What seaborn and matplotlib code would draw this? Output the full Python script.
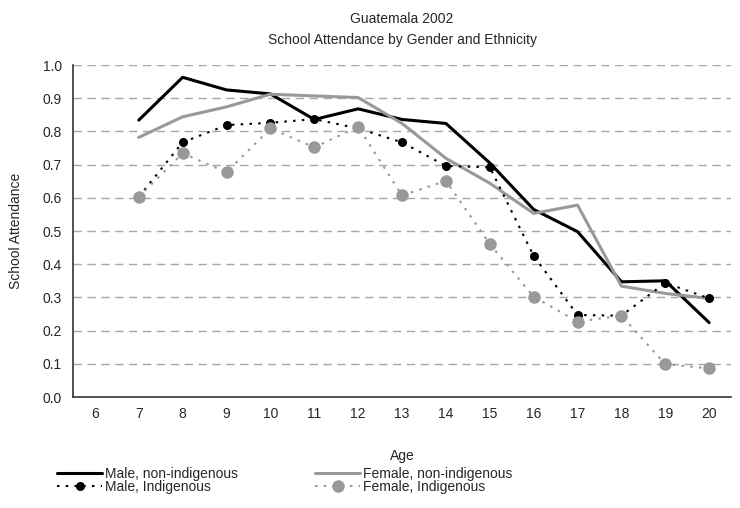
import pandas as pd
import matplotlib.pyplot as plt
import seaborn as sns
import numpy as np

# Data
ages = [7, 8, 9, 10, 11, 12, 13, 14, 15, 16, 17, 18, 19, 20]
male_non_indigenous = [0.834, 0.963, 0.925, 0.913, 0.836, 0.868, 0.836, 0.824,
                       0.705, 0.565, 0.498, 0.347, 0.350, 0.224]
female_non_indigenous = [0.782, 0.844, 0.874, 0.912, 0.907, 0.902, 0.824, 0.719,
                         0.644, 0.553, 0.578, 0.334, 0.312, 0.297]
male_indigenous = [0.603, 0.767, 0.819, 0.826, 0.837, 0.809, 0.767, 0.696,
                   0.692, 0.425, 0.247, 0.245, 0.344, 0.297]
female_indigenous = [0.603, 0.734, 0.677, 0.809, 0.752, 0.814, 0.607, 0.651,
                     0.461, 0.302, 0.227, 0.245, 0.099, 0.086]
age_labels = [str(a) for a in range(6, 21)]

sns.set_style("white")
plt.rcParams['font.family'] = ['Liberation Sans', 'DejaVu Sans']

fig = plt.figure(figsize=(7.4, 5.08), dpi=100)
ax = fig.add_axes([0.0986, 0.2185, 0.8894, 0.6535])

sns.lineplot(x=ages, y=male_non_indigenous, ax=ax, color='black', linewidth=2.2,
             label='Male, non-indigenous')
sns.lineplot(x=ages, y=female_non_indigenous, ax=ax, color='#999999', linewidth=2.2,
             label='Female, non-indigenous')
sns.lineplot(x=ages, y=male_indigenous, ax=ax, color='black', linewidth=1.5,
             linestyle=(0, (1.2, 3)), marker='o', markersize=6.5,
             markeredgewidth=0, label='Male, Indigenous')
sns.lineplot(x=ages, y=female_indigenous, ax=ax, color='#999999', linewidth=1.5,
             linestyle=(0, (1.2, 3)), marker='o', markersize=9,
             markeredgewidth=0, label='Female, Indigenous')

# Axes limits and ticks (category-style x axis)
ax.set_xlim(5.5, 20.5)
ax.set_ylim(0, 1.0)
ax.set_xticks(np.arange(5.5, 21.0, 1.0))
ax.set_xticklabels([])
ax.set_xticks(np.arange(6, 21), minor=True)
ax.set_xticklabels(age_labels, minor=True)
ax.tick_params(axis='x', which='major', direction='out', length=5, width=1, color='#333333')
ax.tick_params(axis='x', which='minor', length=0, pad=7, labelsize=10)
ax.set_yticks(np.arange(0, 1.01, 0.1))
ax.set_yticklabels([f'{v:.1f}' for v in np.arange(0, 1.01, 0.1)])
ax.tick_params(axis='y', direction='out', length=5, width=1, color='#333333', labelsize=10, pad=3)

# Dashed horizontal gridlines
for v in np.arange(0.1, 1.01, 0.1):
    ax.axhline(v, color='#a6a6a6', linestyle=(0, (6, 4)), linewidth=1, zorder=0)

for side in ['top', 'right']:
    ax.spines[side].set_visible(False)
for side in ['left', 'bottom']:
    ax.spines[side].set_color('#333333')
    ax.spines[side].set_linewidth(1.2)

ax.set_xlabel('Age', fontsize=10, labelpad=20)
ax.set_ylabel('School Attendance', fontsize=10, labelpad=14)
ax.set_title('Guatemala 2002\nSchool Attendance by Gender and Ethnicity',
             fontsize=10, pad=15, linespacing=1.65)

# Legend below the plot, two columns
handles, labels = ax.get_legend_handles_labels()
ax.get_legend().remove()
order = [0, 2, 1, 3]
fig.legend([handles[i] for i in order], [labels[i] for i in order],
           loc='upper left', bbox_to_anchor=(0.07, 0.092), ncol=2,
           frameon=False, fontsize=10, handlelength=3.2, handletextpad=0.2,
           columnspacing=5.6, labelspacing=-0.05, borderaxespad=0)

plt.savefig('out.png', dpi=100)
